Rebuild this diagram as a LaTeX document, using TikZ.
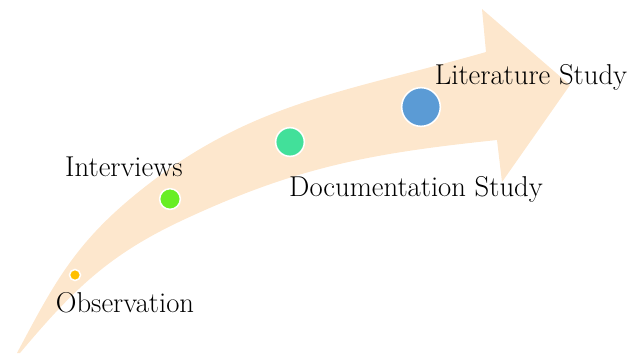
\documentclass[tikz,border=0pt]{standalone}
\definecolor{peach}{RGB}{253,231,205}
\definecolor{obsyellow}{RGB}{255,192,0}
\definecolor{intgreen}{RGB}{104,238,36}
\definecolor{docteal}{RGB}{66,224,154}
\definecolor{litblue}{RGB}{91,155,213}
\begin{document}
\begin{tikzpicture}[x=0.03cm,y=-0.03cm,
    dot/.style={circle,draw=white,line width=1.3pt,inner sep=0pt},
    lbl/.style={font=\fontsize{24.5}{28}\selectfont,inner sep=0pt}]
\useasboundingbox (0,0) rectangle (631,353);

% the curved arrow
\fill[peach] (17,353) to[out=62,in=-140] (130,199) to[out=40,in=-164] (486,52)
  -- (482,9) -- (570,85) -- (502,182) -- (497,140)
  to[out=186,in=25] (183,220) to[out=205,in=50] (20,353) -- cycle;

\node[dot,fill=obsyellow,minimum size=0.33cm] (obs) at (75,275) {};
\node[dot,fill=intgreen,minimum size=0.62cm] (intv) at (170,199) {};
\node[dot,fill=docteal,minimum size=0.86cm] (doc) at (290,142) {};
\node[dot,fill=litblue,minimum size=1.16cm] (lit) at (421,107) {};

\node[lbl] (obslbl) at (125,303) {Observation};
\node[lbl] (intvlbl) at (124,167) {Interviews};
\node[lbl] (doclbl) at (416,189) {Documentation Study};
\node[lbl] (litlbl) at (531,77) {Literature Study};

\end{tikzpicture}
\end{document}
